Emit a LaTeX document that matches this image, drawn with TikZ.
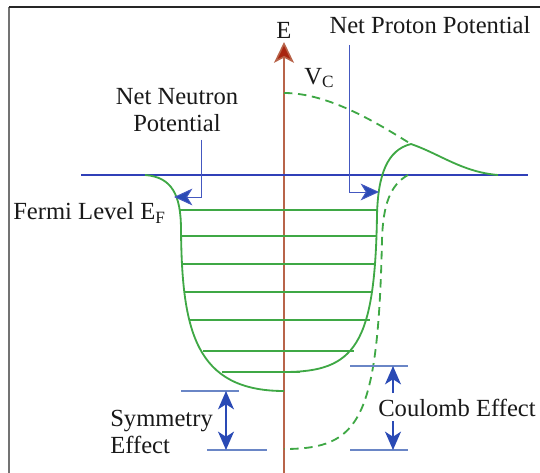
\documentclass[tikz,border=0pt]{standalone}
\usepackage{fontspec}
\setmainfont{Liberation Serif}
\usetikzlibrary{arrows.meta,positioning,calc}
\definecolor{wellgreen}{HTML}{3FA845}
\definecolor{fermiblue}{HTML}{3040B8}
\definecolor{ptrblue}{HTML}{4458C0}
\definecolor{dimblue}{HTML}{6A86C6}
\definecolor{tipblue}{HTML}{2A4AB5}
\definecolor{axisbrown}{HTML}{B8644A}
\definecolor{axisred}{HTML}{A8250F}

\begin{document}
\begin{tikzpicture}[x=0.025cm,y=-0.025cm,
      lbl/.style={font=\fontsize{17.5}{19.2}\selectfont,inner sep=0pt,text=black!90},
      well/.style={draw=wellgreen,line width=1.3pt},
      welldash/.style={well,dash pattern=on 6pt off 4pt},
      ptr/.style={draw=ptrblue,line width=0.7pt,-{Stealth[length=4.6mm,width=4.2mm,inset=1.3mm,fill=tipblue]}},
      dimline/.style={draw=dimblue,line width=1pt},
      dimarr/.style={draw=tipblue,line width=1pt,-{Stealth[length=4.6mm,width=4mm,inset=1.3mm]}},
      dimboth/.style={draw=tipblue,line width=1pt,{Stealth[length=4.6mm,width=4mm,inset=1.3mm]}-{Stealth[length=4.6mm,width=4mm,inset=1.3mm]}}]
    \useasboundingbox (0,0) rectangle (540,473);
    % frame
    \draw[black!55,line width=1.2pt] (9,473) -- (9,7);
    \draw[black!85,line width=1.4pt] (9,7) -- (540,7);

    % energy axis
    \coordinate (axbot) at (284,473);
    \coordinate (axtop) at (284,42);
    \draw[axisbrown,line width=1.1pt,-{Stealth[length=5.2mm,width=5mm,inset=1.3mm,fill=axisred]}] (axbot) -- (axtop);
    \node[lbl] (elabel) at (284,30) {E};

    % fermi level
    \coordinate (fermiL) at (81,175);
    \coordinate (fermiR) at (528,175);
    \draw[fermiblue,line width=1.1pt] (fermiL) -- (fermiR);

    % neutron well
    \draw[well] (145,175) .. controls (172,177) and (181,195) .. (181,230)
                .. controls (182,330) and (195,391) .. (284,391);
    % proton well with coulomb barrier
    \draw[welldash] (284,93) .. controls (330,93) and (380,125) .. (411,144);
    \draw[well] (498,175) .. controls (462,172) and (440,154) .. (411,144)
                .. controls (387,150) and (378,175) .. (377,215)
                .. controls (375,345) and (355,372) .. (284,372);
    \draw[welldash] (408,175) .. controls (390,185) and (383,205) .. (382,240)
                    .. controls (378,420) and (360,449) .. (284,449);

    % occupied levels
    \foreach \y/\xa/\xb in {210/179/377,236/181/377,264/182/375,292/184/373,
                            320/189/370,351/203/354,372/222/300}
      \draw[well] (\xa,\y) -- (\xb,\y);

    % labels and pointers
    \node[lbl,align=center] (neutron) at (177,110) {Net Neutron\\Potential};
    \coordinate (nnstart) at (201,140);
    \coordinate (nnbend) at (201,197);
    \coordinate (nntip) at (174,197);
    \draw[ptr] (nnstart) -- (nnbend) -- (nntip);

    \node[lbl] (proton) at (430,25) {Net Proton Potential};
    \coordinate (npstart) at (349,45);
    \coordinate (npbend) at (349,192);
    \coordinate (nptip) at (379,192);
    \draw[ptr] (npstart) -- (npbend) -- (nptip);

    \node[lbl,anchor=west] (vc) at (304,78) {V\textsubscript{C}};
    \node[lbl,anchor=west] (fermi) at (13,213) {Fermi Level E\textsubscript{F}};

    % symmetry effect
    \coordinate (symTL) at (181,391);
    \coordinate (symTR) at (239,391);
    \coordinate (symBL) at (207,450);
    \coordinate (symBR) at (267,450);
    \draw[dimline] (symTL) -- (symTR);
    \draw[dimline] (symBL) -- (symBR);
    \coordinate (symtop) at (226,391);
    \coordinate (symbot) at (226,450);
    \draw[dimboth] (symtop) -- (symbot);
    \node[lbl,anchor=west,align=left] (symm) at (110,432) {Symmetry\\Effect};

    % coulomb effect
    \coordinate (coTL) at (350,366);
    \coordinate (coTR) at (408,366);
    \coordinate (coBL) at (350,450);
    \coordinate (coBR) at (408,450);
    \draw[dimline] (coTL) -- (coTR);
    \draw[dimline] (coBL) -- (coBR);
    \node[lbl,anchor=west] (coulomb) at (378,408) {Coulomb Effect};
    \coordinate (cotop) at (393,366);
    \coordinate (cobot) at (393,450);
    \coordinate (cofromtop) at (393,393);
    \coordinate (cofrombot) at (393,421);
    \draw[dimarr] (cofromtop) -- (cotop);
    \draw[dimarr] (cofrombot) -- (cobot);
  \end{tikzpicture}
\end{document}
